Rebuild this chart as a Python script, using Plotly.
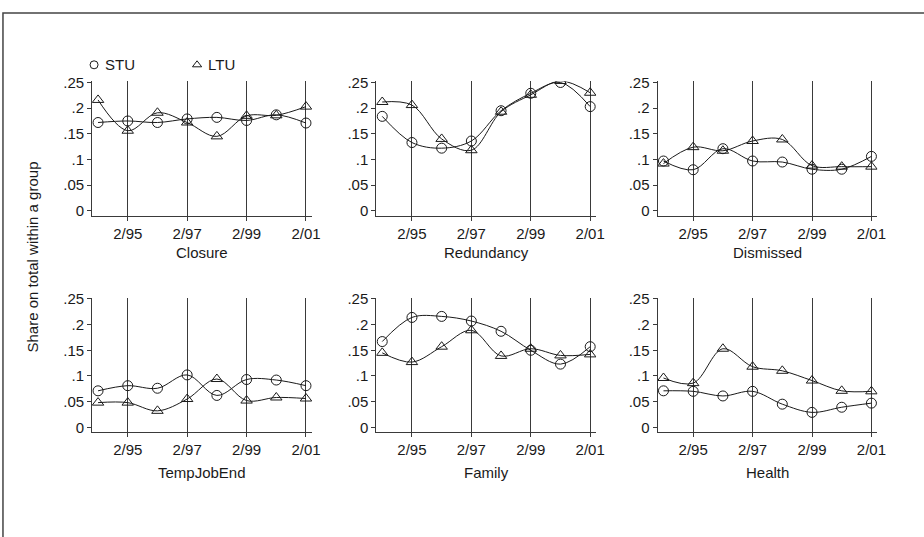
import plotly.graph_objects as go

# survey waves (February of each year, 1994-2001)
years = [94, 95, 96, 97, 98, 99, 100, 101]
x_tick_vals = [95, 97, 99, 101]
x_tick_text = ["2/95", "2/97", "2/99", "2/01"]
y_tick_vals = [0, 0.05, 0.1, 0.15, 0.2, 0.25]
y_tick_text = ["0", ".05", ".1", ".15", ".2", ".25"]

panel_names = ["Closure", "Redundancy", "Dismissed", "TempJobEnd", "Family", "Health"]

# short-term unemployed (STU) shares
stu_closure = [0.172, 0.175, 0.172, 0.179, 0.182, 0.176, 0.187, 0.171]
stu_redundancy = [0.184, 0.133, 0.122, 0.136, 0.195, 0.229, 0.250, 0.203]
stu_dismissed = [0.097, 0.080, 0.121, 0.097, 0.095, 0.081, 0.081, 0.106]
stu_tempjobend = [0.071, 0.081, 0.076, 0.102, 0.062, 0.093, 0.092, 0.081]
stu_family = [0.167, 0.214, 0.216, 0.207, 0.187, 0.150, 0.123, 0.157]
stu_health = [0.071, 0.070, 0.061, 0.070, 0.045, 0.029, 0.039, 0.047]

# long-term unemployed (LTU) shares
ltu_closure = [0.216, 0.156, 0.191, 0.172, 0.145, 0.185, 0.186, 0.203]
ltu_redundancy = [0.212, 0.206, 0.140, 0.118, 0.193, 0.226, 0.253, 0.230]
ltu_dismissed = [0.092, 0.124, 0.117, 0.136, 0.139, 0.088, 0.086, 0.086]
ltu_tempjobend = [0.048, 0.048, 0.032, 0.055, 0.094, 0.052, 0.058, 0.056]
ltu_family = [0.145, 0.127, 0.157, 0.189, 0.139, 0.153, 0.140, 0.142]
ltu_health = [0.096, 0.086, 0.153, 0.118, 0.110, 0.091, 0.071, 0.070]

stu_series = [stu_closure, stu_redundancy, stu_dismissed,
              stu_tempjobend, stu_family, stu_health]
ltu_series = [ltu_closure, ltu_redundancy, ltu_dismissed,
              ltu_tempjobend, ltu_family, ltu_health]

W, H = 924, 537
FONT = "Liberation Sans, Arial, Helvetica, sans-serif"
INK = "#1a1a1a"

# panel boxes in pixels
col_px = [(93, 315), (380, 602), (664, 886)]
row_px = [(75, 212), (296, 433)]
title_y_px = [250, 474]

fig = go.Figure()
layout = dict(
    width=W, height=H,
    margin=dict(l=0, r=0, t=0, b=0),
    paper_bgcolor="white", plot_bgcolor="rgba(0,0,0,0)",
    showlegend=False,
    font=dict(family=FONT, size=15, color=INK),
)
annotations = []

for i, name in enumerate(panel_names):
    r, c = divmod(i, 3)
    n = i + 1
    xa = "x" if n == 1 else f"x{n}"
    ya = "y" if n == 1 else f"y{n}"
    x0, x1 = col_px[c]
    y0, y1 = row_px[r]
    layout[f"xaxis{'' if n == 1 else n}"] = dict(
        domain=[x0 / W, x1 / W], anchor=ya,
        range=[93.8, 101.2],
        tickvals=x_tick_vals, ticktext=x_tick_text,
        showgrid=True, gridcolor="#3a3a3a", gridwidth=1,
        showline=True, linecolor="#3a3a3a", linewidth=1,
        ticks="outside", ticklen=4, tickcolor="#3a3a3a",
        zeroline=False, tickfont=dict(size=15, color=INK),
    )
    layout[f"yaxis{'' if n == 1 else n}"] = dict(
        domain=[1 - y1 / H, 1 - y0 / H], anchor=xa,
        range=[-0.0095, 0.252],
        tickvals=y_tick_vals, ticktext=y_tick_text,
        showgrid=False,
        showline=True, linecolor="#3a3a3a", linewidth=1,
        ticks="outside", ticklen=4, tickcolor="#3a3a3a",
        zeroline=False, tickfont=dict(size=15, color=INK),
    )
    for vals, sym in ((stu_series[i], "circle-open"), (ltu_series[i], "triangle-up-open")):
        fig.add_trace(go.Scatter(
            x=years, y=vals, xaxis=xa, yaxis=ya,
            mode="lines+markers",
            line=dict(color=INK, width=1, shape="spline", smoothing=1.0),
            marker=dict(symbol=sym, size=10, color=INK, line=dict(width=1, color=INK)),
            hoverinfo="skip",
        ))
    annotations.append(dict(
        text=name, xref="paper", yref="paper",
        x=(x0 + x1) / 2 / W, y=1 - title_y_px[r] / H,
        xanchor="center", yanchor="middle", showarrow=False,
        font=dict(size=15, color=INK),
    ))

# overlay axis in pixel units for the key
layout["xaxis7"] = dict(domain=[0, 1], range=[0, W], visible=False, anchor="y7")
layout["yaxis7"] = dict(domain=[0, 1], range=[H, 0], visible=False, anchor="x7")
key_items = [("STU", "circle-open", 95), ("LTU", "triangle-up-open", 199)]
for label, sym, kx in key_items:
    fig.add_trace(go.Scatter(
        x=[kx], y=[58], xaxis="x7", yaxis="y7", mode="markers",
        marker=dict(symbol=sym, size=8, color=INK, line=dict(width=1, color=INK)),
        hoverinfo="skip",
    ))
    annotations.append(dict(
        text=label, xref="x7", yref="y7", x=kx + 9, y=58,
        xanchor="left", yanchor="middle", showarrow=False,
        font=dict(size=15, color=INK),
    ))

annotations.append(dict(
    text="Share on total within a group", xref="paper", yref="paper",
    x=33 / W, y=1 - 254 / H, textangle=-90,
    xanchor="center", yanchor="middle", showarrow=False,
    font=dict(size=15, color=INK),
))

layout["annotations"] = annotations
layout["shapes"] = [dict(
    type="rect", xref="paper", yref="paper",
    x0=3 / W, x1=1.02, y0=-0.02, y1=1 - 5 / H,
    line=dict(color="#444444", width=1.5), fillcolor="rgba(0,0,0,0)",
)]
fig.update_layout(**layout)
fig.write_html("out.html")
